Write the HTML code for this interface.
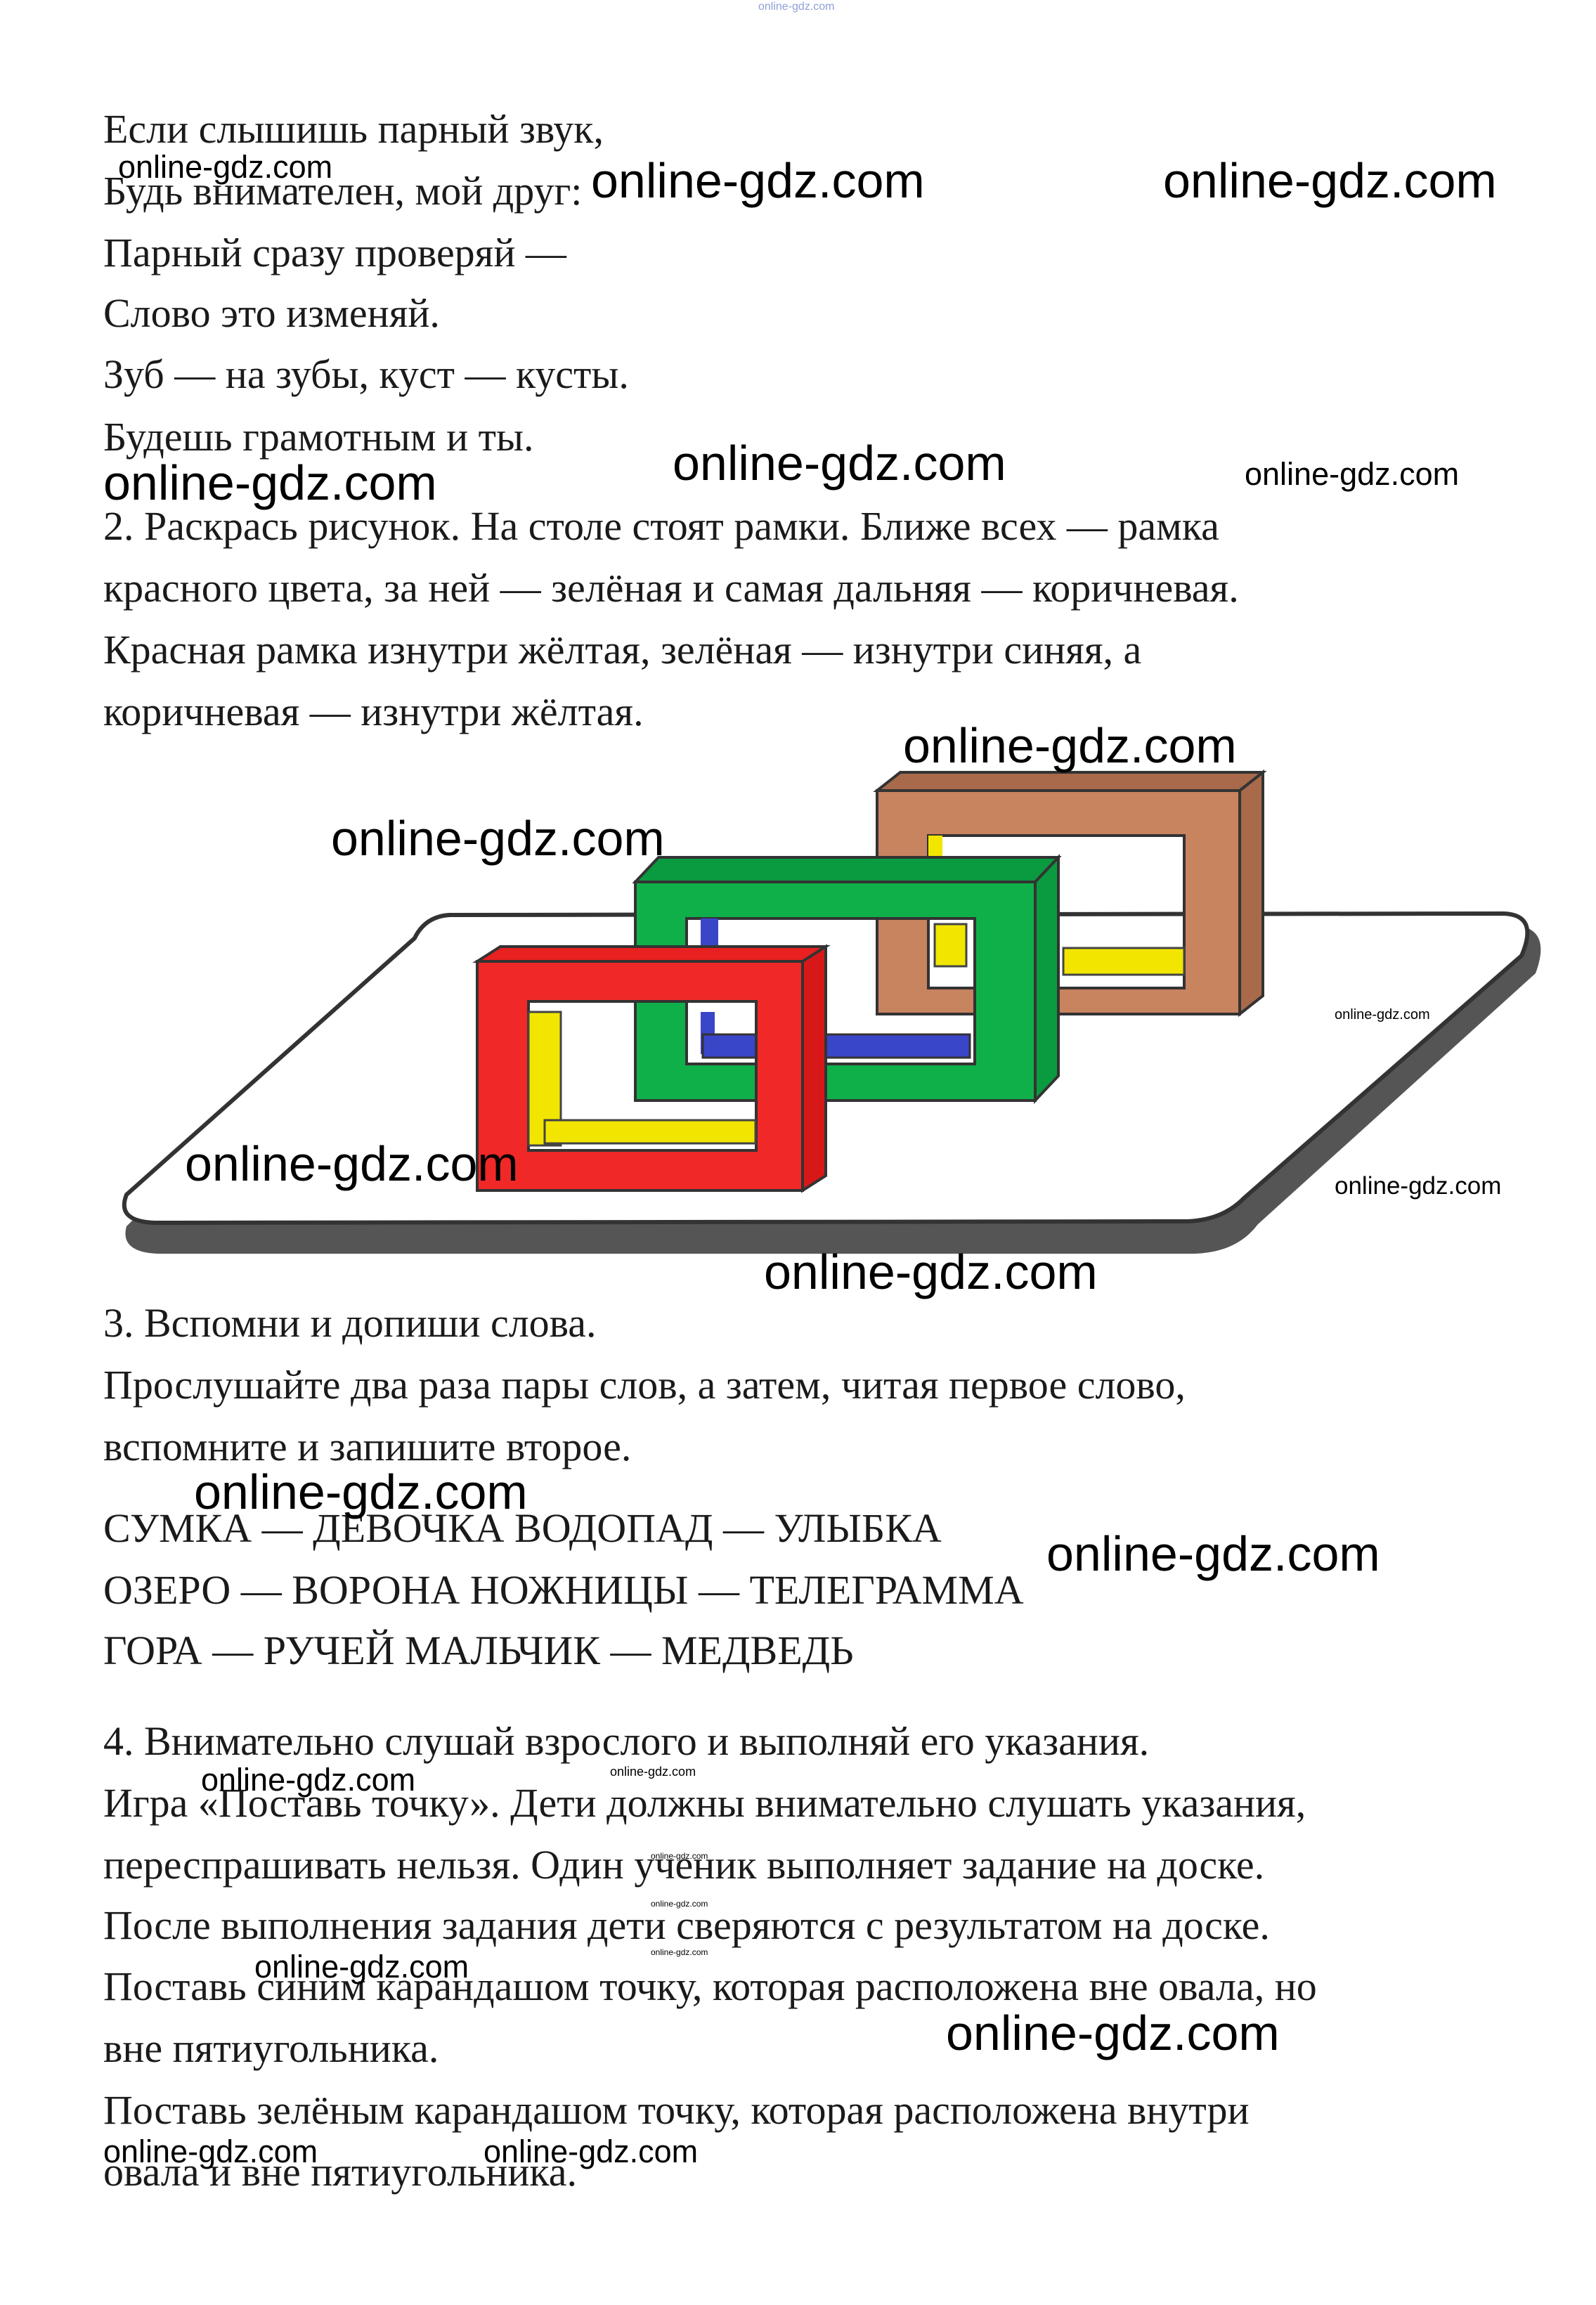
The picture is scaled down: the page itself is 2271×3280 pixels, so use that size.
<!DOCTYPE html>
<html><head><meta charset="utf-8"><style>
html,body{margin:0;padding:0;background:#fff;}
body{width:2271px;height:3280px;position:relative;overflow:hidden;}
.t{position:absolute;left:147px;font-family:"Liberation Serif","DejaVu Serif",serif;font-size:58px;line-height:58px;color:#1a1a1a;white-space:nowrap;}
.w{position:absolute;font-family:"Liberation Sans","DejaVu Sans",sans-serif;color:#000;white-space:nowrap;}
svg{position:absolute;left:0;top:0;}
</style></head><body>
<svg width="2271" height="3280" viewBox="0 0 2271 3280">
  <path d="M640,1318 L2150,1316 Q2210,1318 2185,1385 L1790,1742 Q1760,1782 1700,1784 L225,1784 Q170,1782 180,1745 L580,1350 Z" fill="#555"/>
  <path d="M640,1302 L2140,1300 Q2190,1302 2165,1360 L1770,1705 Q1740,1736 1690,1738 L220,1740 Q165,1738 180,1700 L590,1335 Q605,1304 640,1302 Z" fill="#fff" stroke="#333" stroke-width="6"/>
  <polygon points="1248,1125 1281,1099 1797,1099 1764,1125" fill="#a86a4a" stroke="#333" stroke-width="4"/>
  <polygon points="1764,1125 1797,1099 1797,1417 1764,1443" fill="#a86a4a" stroke="#333" stroke-width="4"/>
  <path fill-rule="evenodd" d="M1248,1125 H1764 V1443 H1248 Z M1321,1189 V1406 H1685 V1189 Z" fill="#c8835f" stroke="#333" stroke-width="4"/>
  <rect x="1513" y="1349" width="172" height="38" fill="#f2e600" stroke="#444" stroke-width="3"/>
  <rect x="1321" y="1189" width="20" height="40" fill="#f2e600"/>
  <rect x="1330" y="1315" width="45" height="60" fill="#f2e600" stroke="#444" stroke-width="3"/>
  <polygon points="904,1255 937,1220 1506,1220 1473,1255" fill="#0a9a40" stroke="#333" stroke-width="4"/>
  <polygon points="1473,1255 1506,1220 1506,1531 1473,1566" fill="#0a9a40" stroke="#333" stroke-width="4"/>
  <path fill-rule="evenodd" d="M904,1255 H1473 V1566 H904 Z M977,1307 V1514 H1387 V1307 Z" fill="#0fb04a" stroke="#333" stroke-width="4"/>
  <rect x="997" y="1307" width="25" height="60" fill="#3a46c8"/>
  <rect x="997" y="1440" width="20" height="60" fill="#3a46c8"/>
  <rect x="1000" y="1472" width="380" height="33" fill="#3a46c8" stroke="#333" stroke-width="3"/>
  <polygon points="679,1368 712,1347 1175,1347 1142,1368" fill="#e82020" stroke="#333" stroke-width="4"/>
  <polygon points="1142,1368 1175,1347 1175,1673 1142,1694" fill="#d81818" stroke="#333" stroke-width="4"/>
  <path fill-rule="evenodd" d="M679,1368 H1142 V1694 H679 Z M752,1425 V1637 H1076 V1425 Z" fill="#f02828" stroke="#333" stroke-width="4"/>
  <rect x="752" y="1440" width="46" height="190" fill="#f2e600" stroke="#444" stroke-width="3"/>
  <rect x="775" y="1594" width="300" height="33" fill="#f2e600" stroke="#444" stroke-width="3"/>
</svg>

<div class="t" style="top:155px">Если слышишь парный звук,</div>
<div class="t" style="top:243px">Будь внимателен, мой друг:</div>
<div class="t" style="top:331px">Парный сразу проверяй —</div>
<div class="t" style="top:417px">Слово это изменяй.</div>
<div class="t" style="top:504px">Зуб — на зубы, куст — кусты.</div>
<div class="t" style="top:593px">Будешь грамотным и ты.</div>
<div class="t" style="top:720px">2. Раскрась рисунок. На столе стоят рамки. Ближе всех — рамка</div>
<div class="t" style="top:808px">красного цвета, за ней — зелёная и самая дальняя — коричневая.</div>
<div class="t" style="top:896px">Красная рамка изнутри жёлтая, зелёная — изнутри синяя, а</div>
<div class="t" style="top:984px">коричневая — изнутри жёлтая.</div>
<div class="t" style="top:1854px">3. Вспомни и допиши слова.</div>
<div class="t" style="top:1942px">Прослушайте два раза пары слов, а затем, читая первое слово,</div>
<div class="t" style="top:2030px">вспомните и запишите второе.</div>
<div class="t" style="top:2146px">СУМКА — ДЕВОЧКА ВОДОПАД — УЛЫБКА</div>
<div class="t" style="top:2234px">ОЗЕРО — ВОРОНА НОЖНИЦЫ — ТЕЛЕГРАММА</div>
<div class="t" style="top:2320px">ГОРА — РУЧЕЙ МАЛЬЧИК — МЕДВЕДЬ</div>
<div class="t" style="top:2449px">4. Внимательно слушай взрослого и выполняй его указания.</div>
<div class="t" style="top:2537px">Игра «Поставь точку». Дети должны внимательно слушать указания,</div>
<div class="t" style="top:2625px">переспрашивать нельзя. Один ученик выполняет задание на доске.</div>
<div class="t" style="top:2711px">После выполнения задания дети сверяются с результатом на доске.</div>
<div class="t" style="top:2798px">Поставь синим карандашом точку, которая расположена вне овала, но</div>
<div class="t" style="top:2886px">вне пятиугольника.</div>
<div class="t" style="top:2974px">Поставь зелёным карандашом точку, которая расположена внутри</div>
<div class="t" style="top:3062px">овала и вне пятиугольника.</div>

<div class="w" style="left:841px;top:222px;font-size:70px;line-height:70px">online-gdz.com</div>
<div class="w" style="left:1655px;top:222px;font-size:70px;line-height:70px">online-gdz.com</div>
<div class="w" style="left:147px;top:652px;font-size:70px;line-height:70px">online-gdz.com</div>
<div class="w" style="left:957px;top:624px;font-size:70px;line-height:70px">online-gdz.com</div>
<div class="w" style="left:1771px;top:652px;font-size:45px;line-height:45px">online-gdz.com</div>
<div class="w" style="left:1285px;top:1026px;font-size:70px;line-height:70px">online-gdz.com</div>
<div class="w" style="left:471px;top:1158px;font-size:70px;line-height:70px">online-gdz.com</div>
<div class="w" style="left:263px;top:1621px;font-size:70px;line-height:70px">online-gdz.com</div>
<div class="w" style="left:1087px;top:1775px;font-size:70px;line-height:70px">online-gdz.com</div>
<div class="w" style="left:276px;top:2088px;font-size:70px;line-height:70px">online-gdz.com</div>
<div class="w" style="left:1489px;top:2176px;font-size:70px;line-height:70px">online-gdz.com</div>
<div class="w" style="left:1346px;top:2858px;font-size:70px;line-height:70px">online-gdz.com</div>
<div class="w" style="left:168px;top:215px;font-size:45px;line-height:45px">online-gdz.com</div>
<div class="w" style="left:1899px;top:1434px;font-size:20px;line-height:20px">online-gdz.com</div>
<div class="w" style="left:1899px;top:1670px;font-size:35px;line-height:35px">online-gdz.com</div>
<div class="w" style="left:286px;top:2510px;font-size:45px;line-height:45px">online-gdz.com</div>
<div class="w" style="left:362px;top:2776px;font-size:45px;line-height:45px">online-gdz.com</div>
<div class="w" style="left:147px;top:3039px;font-size:45px;line-height:45px">online-gdz.com</div>
<div class="w" style="left:688px;top:3039px;font-size:45px;line-height:45px">online-gdz.com</div>
<div class="w" style="left:868px;top:2512px;font-size:18px;line-height:18px">online-gdz.com</div>
<div class="w" style="left:926px;top:2635px;font-size:12px;line-height:12px">online-gdz.com</div>
<div class="w" style="left:926px;top:2703px;font-size:12px;line-height:12px">online-gdz.com</div>
<div class="w" style="left:926px;top:2772px;font-size:12px;line-height:12px">online-gdz.com</div>
<div class="w" style="left:1079px;top:2px;font-size:16px;line-height:16px;color:#8fa0d8">online-gdz.com</div>
</body></html>
